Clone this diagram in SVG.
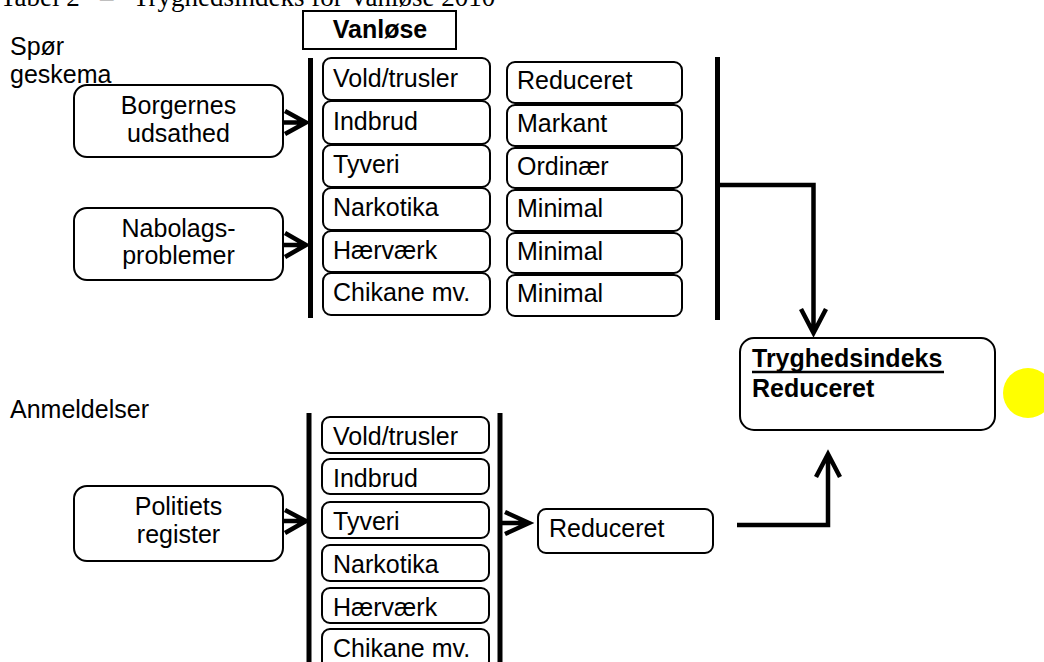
<svg xmlns="http://www.w3.org/2000/svg" width="1044" height="662" viewBox="0 0 1044 662">
<style>
.t{font-family:"Liberation Sans",Arial,sans-serif;font-size:25px;fill:#000}
.b{font-weight:bold}
.c{text-anchor:middle}
.box{fill:#fff;stroke:#000;stroke-width:2}
.bar{stroke:#000;stroke-width:5;fill:none}
.arr{stroke:#000;stroke-width:4.5;fill:none;stroke-linecap:butt;stroke-linejoin:miter}
.title{font-family:"Liberation Serif","Times New Roman",serif;font-size:27px;fill:#000}
</style>
<rect width="1044" height="662" fill="#fff"/>
<g id="title"><text class="title" x="0" y="6">Tabel 2<tspan x="100">–</tspan><tspan x="133">Tryghedsindeks for Vanløse 2010</tspan></text></g>
<g id="labels">
<text class="t" x="10" y="55">Spør</text>
<text class="t" x="10" y="83">geskema</text>
<text class="t" x="10" y="418">Anmeldelser</text>
</g>
<g id="vanlose"><rect x="303" y="11" width="153" height="38" fill="#fff" stroke="#000" stroke-width="2"/><text class="t b c" x="380" y="38">Vanløse</text></g>
<g id="borgernes"><rect class="box" x="74" y="85" width="209" height="72" rx="13"/><text class="t c" x="178.5" y="114">Borgernes</text><text class="t c" x="178.5" y="142">udsathed</text></g>
<g id="nabolag"><rect class="box" x="74" y="208" width="209" height="72" rx="13"/><text class="t c" x="178.5" y="237">Nabolags-</text><text class="t c" x="178.5" y="264">problemer</text></g>
<g id="politiets"><rect class="box" x="74" y="486" width="209" height="75" rx="13"/><text class="t c" x="178.5" y="515">Politiets</text><text class="t c" x="178.5" y="543">register</text></g>
<g id="top-kategorier">
<rect class="box" x="323" y="58" width="167" height="42" rx="8"/><text class="t" x="333" y="87">Vold/trusler</text>
<rect class="box" x="323" y="101" width="167" height="43" rx="8"/><text class="t" x="333" y="130">Indbrud</text>
<rect class="box" x="323" y="145" width="167" height="42" rx="8"/><text class="t" x="333" y="173">Tyveri</text>
<rect class="box" x="323" y="188" width="167" height="42" rx="8"/><text class="t" x="333" y="216">Narkotika</text>
<rect class="box" x="323" y="231" width="167" height="41" rx="8"/><text class="t" x="333" y="259">Hærværk</text>
<rect class="box" x="323" y="273" width="167" height="42" rx="8"/><text class="t" x="333" y="301">Chikane mv.</text>
</g>
<g id="top-vurdering">
<rect class="box" x="507" y="62" width="175" height="41" rx="8"/><text class="t" x="517" y="89">Reduceret</text>
<rect class="box" x="507" y="105" width="175" height="41" rx="8"/><text class="t" x="517" y="132">Markant</text>
<rect class="box" x="507" y="148" width="175" height="40" rx="8"/><text class="t" x="517" y="175">Ordinær</text>
<rect class="box" x="507" y="190" width="175" height="41" rx="8"/><text class="t" x="517" y="217">Minimal</text>
<rect class="box" x="507" y="233" width="175" height="40" rx="8"/><text class="t" x="517" y="260">Minimal</text>
<rect class="box" x="507" y="275" width="175" height="41" rx="8"/><text class="t" x="517" y="302">Minimal</text>
</g>
<g id="bund-kategorier">
<rect class="box" x="322" y="417" width="167" height="36" rx="8"/><text class="t" x="333" y="445">Vold/trusler</text>
<rect class="box" x="322" y="459" width="167" height="35" rx="8"/><text class="t" x="333" y="487">Indbrud</text>
<rect class="box" x="322" y="502" width="167" height="36" rx="8"/><text class="t" x="333" y="530">Tyveri</text>
<rect class="box" x="322" y="545" width="167" height="36" rx="8"/><text class="t" x="333" y="573">Narkotika</text>
<rect class="box" x="322" y="588" width="167" height="35" rx="8"/><text class="t" x="333" y="616">Hærværk</text>
<rect class="box" x="322" y="629" width="167" height="40" rx="8"/><text class="t" x="333" y="657">Chikane mv.</text>
</g>
<g id="bund-reduceret"><rect class="box" x="538" y="509" width="175" height="44" rx="8"/><text class="t" x="549" y="537">Reduceret</text></g>
<g id="tryghedsindeks"><rect class="box" x="740" y="338" width="255" height="92" rx="14"/><text class="t b" x="752" y="367">Tryghedsindeks</text><line x1="752" y1="372" x2="944" y2="372" stroke="#000" stroke-width="2.5"/><text class="t b" x="752" y="397">Reduceret</text></g>
<g id="markering"><circle cx="1028" cy="393" r="25" fill="#ffff00"/></g>
<g id="bjaelker">
<line class="bar" x1="310.5" y1="58" x2="310.5" y2="318"/>
<line class="bar" x1="717.5" y1="57" x2="717.5" y2="320"/>
<line class="bar" x1="309" y1="413" x2="309" y2="662"/>
<line class="bar" x1="500" y1="413" x2="500" y2="662"/>
</g>
<g id="connectors">
<path class="arr" d="M283 122.5H306M285 111L306 122.5L285 134"/>
<path class="arr" d="M283 245H306M285 233L306 245L285 257"/>
<path class="arr" d="M283 521H306M285 510L306 521L285 533"/>
<path class="arr" d="M500 523H529M505 512L529 523L505 534"/>
<path class="arr" d="M717.5 185H813.5V333M801 309L813.5 333L826 309"/>
<path class="arr" stroke-width="5" d="M737 525H828V454M816 477L828 454L840 477"/>
</g>
</svg>
